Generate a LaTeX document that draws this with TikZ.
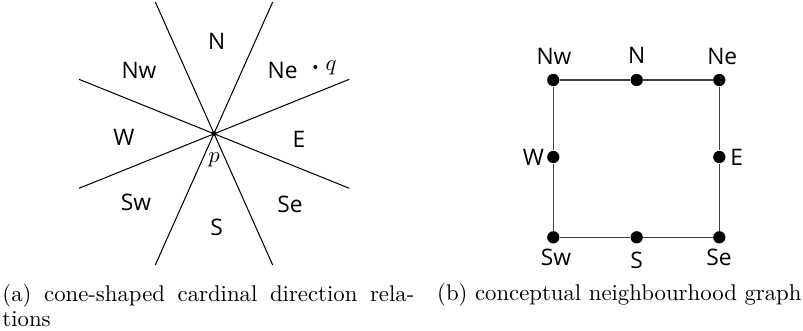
\documentclass[tikz,border=0pt]{standalone}
\usepackage{fontspec}
\newfontfamily\labfont{Open Sans}
\begin{document}
\begin{tikzpicture}[x=0.4394pt,y=-0.4394pt,
  lab/.style={font=\labfont\fontsize{10}{12}\selectfont, inner sep=0pt, anchor=center},
  ray/.style={line width=0.45pt, black},
  edge/.style={line width=0.65pt, black!75},
  bigdot/.style={circle, fill=black, inner sep=0pt, minimum size=5.4pt},
  smalldot/.style={circle, fill=black, inner sep=0pt, minimum size=1.8pt},
  capt/.style={font=\fontsize{10}{11}\selectfont, inner sep=0pt}]
\useasboundingbox (0,0) rectangle (803,331);
% ---- (a) cones
\coordinate (c) at (214,133.5);
\coordinate (a1) at (155.3,2);   \coordinate (b1) at (272.7,265);
\coordinate (a2) at (272.7,2);   \coordinate (b2) at (155.3,265);
\coordinate (a3) at (79,79.3);   \coordinate (b3) at (349.3,188.3);
\coordinate (a4) at (79,188.3);  \coordinate (b4) at (349.3,79.3);
\draw[ray] (a1) -- (b1);
\draw[ray] (a2) -- (b2);
\draw[ray] (a3) -- (b3);
\draw[ray] (a4) -- (b4);
\node[smalldot, minimum size=2.2pt] (p) at (c) {};
\node[smalldot] (qd) at (315.3,67) {};
\node[inner sep=0pt] (qt) at (331,67.5) {$q$};
\node[inner sep=0pt] (pt) at (214,160) {$p$};
\node[lab] (lN) at (216.7,41.7) {N};
\node[lab] (lNw) at (139,70.7) {Nw};
\node[lab] (lNe) at (282.7,70) {Ne};
\node[lab] (lW) at (124,137.3) {W};
\node[lab] (lE) at (299,139) {E};
\node[lab] (lSw) at (136,202.7) {Sw};
\node[lab] (lSe) at (290,204) {Se};
\node[lab] (lS) at (216.7,227.7) {S};
% ---- (b) graph
\node[bigdot] (Nw) at (553.3,80) {};
\node[bigdot] (N) at (636.7,80) {};
\node[bigdot] (Ne) at (719.3,80) {};
\node[bigdot] (W) at (553.3,157) {};
\node[bigdot] (E) at (719.3,157) {};
\node[bigdot] (Sw) at (553.3,237.3) {};
\node[bigdot] (S) at (636.7,237.3) {};
\node[bigdot] (Se) at (719.3,237.3) {};
\draw[edge] (Nw) -- (N);
\draw[edge] (N) -- (Ne);
\draw[edge] (Ne) -- (E);
\draw[edge] (E) -- (Se);
\draw[edge] (Se) -- (S);
\draw[edge] (S) -- (Sw);
\draw[edge] (Sw) -- (W);
\draw[edge] (W) -- (Nw);
\node[lab] (gNw) at (554,56.7) {Nw};
\node[lab] (gN) at (636.7,55) {N};
\node[lab] (gNe) at (722.3,56.7) {Ne};
\node[lab] (gW) at (533.3,157) {W};
\node[lab] (gE) at (736.7,157) {E};
\node[lab] (gSw) at (556,257.7) {Sw};
\node[lab] (gS) at (636.7,260) {S};
\node[lab] (gSe) at (719,257.7) {Se};
% ---- captions
\node[capt, anchor=north west, text width=181pt, align=justify] (capa) at (2,284) {(a) cone-shaped cardinal direction rela-\break tions};
\node[capt, anchor=base west] (capb) at (436.7,301) {(b) conceptual neighbourhood graph};
\end{tikzpicture}
\end{document}
